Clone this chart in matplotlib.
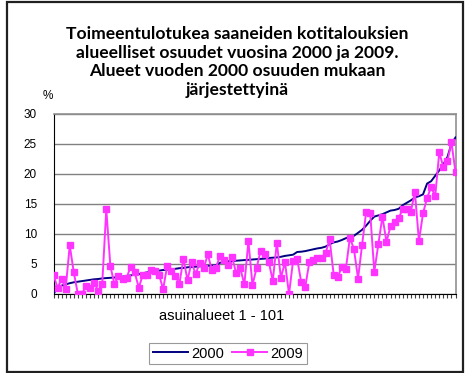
import matplotlib
matplotlib.use('Agg')
import matplotlib.pyplot as plt
from matplotlib.patches import Rectangle

# share of households on income support, areas ordered by the 2000 share
share_2000 = [0.0, 1.1, 1.4, 1.6, 1.8, 1.95, 2.05, 2.15, 2.25, 2.35,
              2.45, 2.5, 2.6, 2.65, 2.7, 2.75, 2.8, 2.9, 3.0, 3.1,
              3.2, 3.3, 3.45, 3.6, 3.7, 3.8, 3.9, 4.0, 4.05, 4.1,
              4.2, 4.3, 4.35, 4.45, 4.5, 4.55, 4.6, 4.65, 4.7, 4.75,
              4.8, 5.2, 5.4, 5.45, 5.5, 5.55, 5.6, 5.65, 5.7, 5.75,
              5.8, 5.85, 5.9, 6.0, 6.05, 6.1, 6.2, 6.35, 6.45, 6.55,
              7.0, 7.05, 7.15, 7.3, 7.45, 7.6, 7.7, 7.9, 8.3, 8.6,
              8.75, 9.0, 9.3, 9.55, 9.7, 10.2, 10.7, 11.4, 12.2, 12.9,
              13.1, 13.3, 13.6, 13.9, 14.0, 14.2, 14.8, 15.2, 15.6, 16.1,
              16.3, 16.6, 18.4, 18.8, 19.7, 20.6, 21.6, 22.8, 25.0, 26.1]

share_2009 = [3.2, 1.0, 2.5, 0.9, 8.1, 3.6, 0.0, 0.0, 1.4, 1.05,
              1.9, 0.55, 1.7, 14.1, 4.7, 1.6, 3.0, 2.45, 2.7, 4.55,
              3.6, 1.05, 3.2, 3.1, 4.0, 3.8, 3.2, 0.8, 4.7, 3.8,
              3.0, 1.7, 5.9, 2.3, 5.3, 3.3, 5.2, 4.3, 6.6, 4.0,
              4.3, 6.4, 5.7, 4.8, 6.1, 3.45, 4.3, 1.6, 8.8, 1.5,
              4.3, 7.2, 6.7, 5.4, 2.2, 8.55, 2.7, 5.3, 0.0, 5.55,
              5.9, 2.0, 1.2, 5.3, 5.7, 6.0, 6.0, 6.8, 9.1, 3.2,
              2.8, 4.55, 4.2, 9.4, 7.45, 2.55, 8.2, 13.7, 13.45, 3.7,
              8.3, 12.9, 8.7, 11.3, 12.05, 12.6, 14.2, 14.1, 13.7, 17.0,
              8.8, 13.45, 16.0, 17.8, 16.3, 23.6, 21.2, 22.1, 25.3, 20.3]

series_names = ['2000', '2009']
y_ticks = [0, 5, 10, 15, 20, 25, 30]

title = ('Toimeentulotukea saaneiden kotitalouksien\n'
         'alueelliset osuudet vuosina 2000 ja 2009.\n'
         'Alueet vuoden 2000 osuuden mukaan\n'
         'järjestettyinä')

W, H = 470, 373
fig = plt.figure(figsize=(W / 100, H / 100), dpi=100)
fig.patch.set_facecolor('white')

# outer chart frame
fig.patches.append(Rectangle((7 / W, 1 / H), 456 / W, 370 / H, transform=fig.transFigure,
                             fill=False, edgecolor='#202020', linewidth=1.6))

ax = fig.add_axes([53.5 / W, 79 / H, 402 / W, 180 / H])
x = list(range(len(share_2000)))

ax.plot(x, share_2000, color='#000080', linewidth=1.4, label=series_names[0], zorder=3)
ax.plot(x, share_2009, color='#FF33FF', linewidth=1.4, marker='s', markersize=3.8,
        label=series_names[1], zorder=4)

ax.set_xlim(0, len(x) - 1)
ax.set_ylim(0, 30)
ax.set_yticks(y_ticks)
ax.set_xticks(x)
ax.set_xticklabels([])
ax.tick_params(axis='x', direction='out', length=3, width=0.8, color='#404040')
ax.tick_params(axis='y', length=0, pad=12, labelsize=8.5)
for lab in ax.get_yticklabels():
    lab.set_fontfamily('Liberation Sans')

ax.grid(axis='y', color='#808080', linewidth=1)
ax.set_axisbelow(True)
ax.spines['left'].set_color('black')
ax.spines['bottom'].set_color('black')
ax.spines['top'].set_color('#909090')
ax.spines['right'].set_color('#909090')
ax.spines['top'].set_linewidth(1.2)
ax.spines['right'].set_linewidth(1.2)

fig.text(237 / W, 1 - 62 / H, title, ha='center', va='center', fontsize=12.6,
         fontweight='bold', family='Lato', linespacing=1.2)
fig.text(48 / W, 1 - 96 / H, '%', ha='center', va='center', fontsize=8.5,
         family='Liberation Sans')
fig.text(222 / W, 1 - 316 / H, 'asuinalueet 1 - 101', ha='center', va='center',
         fontsize=10.5, family='Liberation Sans')

leg = fig.legend(loc='center', bbox_to_anchor=(228 / W, 1 - 353.5 / H), ncol=2,
                 prop={'family': 'Liberation Sans', 'size': 10.5}, frameon=True,
                 fancybox=False, edgecolor='#808080', handlelength=2.4,
                 handletextpad=0.2, columnspacing=0.6, borderpad=0.25)
leg.get_frame().set_linewidth(0.8)

fig.savefig('out.png', dpi=100)
